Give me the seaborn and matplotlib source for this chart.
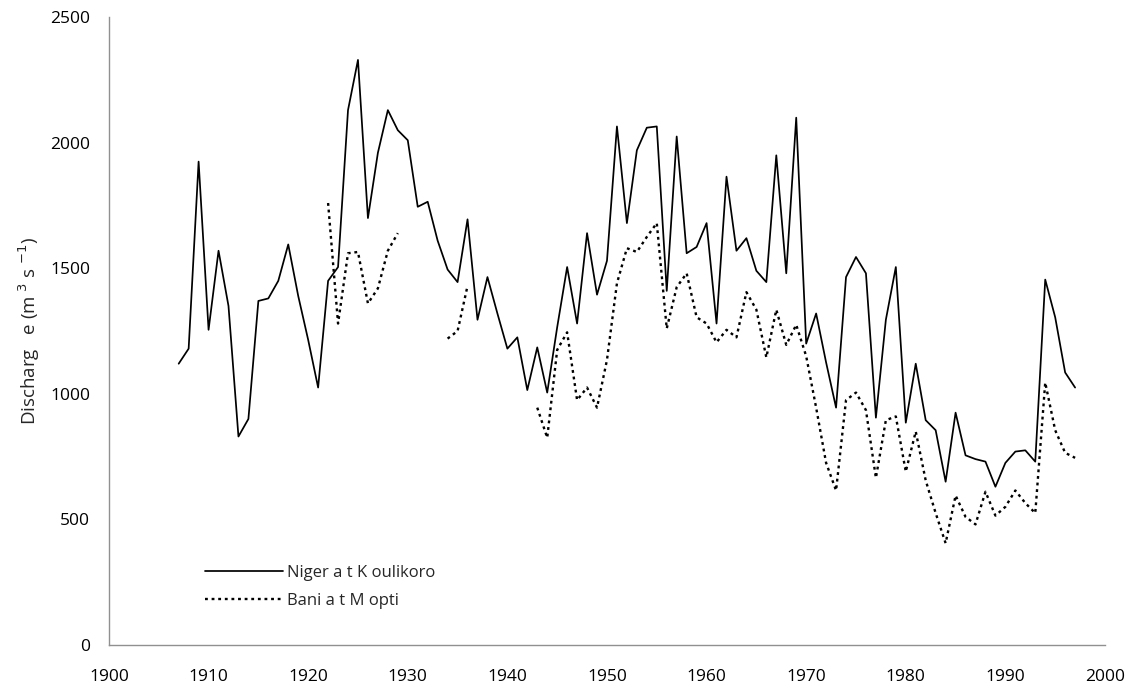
import numpy as np
import pandas as pd
import matplotlib
matplotlib.use('Agg')
import matplotlib.pyplot as plt
import seaborn as sns

# Annual mean discharge (m3/s)
niger_years = list(range(1907, 1998))
niger_q = [1120, 1180, 1925, 1255, 1570, 1350, 830, 900, 1370, 1380, 1450, 1595,
           1390, 1215, 1025, 1450, 1505, 2130, 2330, 1700, 1960, 2130, 2050, 2010,
           1745, 1765, 1610, 1495, 1445, 1695, 1295, 1465, 1320, 1180, 1225, 1015,
           1185, 1005, 1265, 1505, 1280, 1640, 1395, 1530, 2065, 1680, 1970, 2060,
           2065, 1410, 2025, 1560, 1585, 1680, 1280, 1865, 1570, 1620, 1490, 1445,
           1950, 1480, 2100, 1200, 1320, 1125, 945, 1465, 1545, 1480, 905, 1295,
           1505, 885, 1120, 895, 855, 650, 925, 755, 740, 730, 630, 725, 770,
           775, 730, 1455, 1305, 1085, 1025]

# Bani at Mopti has gaps in the record
bani_years_1 = list(range(1922, 1930))
bani_q_1 = [1760, 1280, 1560, 1565, 1360, 1420, 1570, 1640]
bani_years_2 = [1934, 1935, 1936]
bani_q_2 = [1220, 1250, 1430]
bani_years_3 = list(range(1943, 1998))
bani_q_3 = [945, 825, 1175, 1245, 975, 1025, 945, 1135, 1440, 1580, 1565, 1625,
            1680, 1260, 1425, 1480, 1305, 1280, 1205, 1255, 1225, 1405, 1335, 1145,
            1335, 1195, 1275, 1150, 945, 725, 615, 975, 1005, 935, 665, 895,
            910, 690, 850, 655, 525, 405, 595, 510, 480, 610, 515, 550, 615,
            565, 525, 1045, 855, 765, 745]

sns.set_theme(style='white')
plt.rcParams['font.family'] = ['Open Sans', 'DejaVu Sans']

fig = plt.figure(figsize=(11.28, 6.89), dpi=100)
ax = fig.add_axes([0.0966, 0.064, 0.883, 0.911])

niger = pd.DataFrame({'year': niger_years, 'q': niger_q})
sns.lineplot(data=niger, x='year', y='q', color='black', linewidth=1.25, ax=ax,
             label='Niger a t K oulikoro')

first = True
for yrs, vals in [(bani_years_1, bani_q_1), (bani_years_2, bani_q_2), (bani_years_3, bani_q_3)]:
    seg = pd.DataFrame({'year': yrs, 'q': vals})
    sns.lineplot(data=seg, x='year', y='q', color='black', linewidth=1.7,
                 linestyle=(0, (1.2, 1.6)), ax=ax,
                 label='Bani a t M opti' if first else None)
    first = False

ax.set_xlim(1900, 2000)
ax.set_ylim(0, 2500)
ax.set_xticks(range(1900, 2001, 10))
ax.set_yticks(range(0, 2501, 500))
ax.set_xlabel('')
ax.set_ylabel('Discharg   e (m $^{3}$ s $^{-1}$)', fontsize=13.5, labelpad=6)

for side in ['top', 'right']:
    ax.spines[side].set_visible(False)
for side in ['left', 'bottom']:
    ax.spines[side].set_color('#909090')
    ax.spines[side].set_linewidth(1.0)
ax.tick_params(axis='both', which='major', direction='out', length=4.5, width=1,
               color='#909090', labelsize=12.5, labelcolor='black')
ax.tick_params(axis='x', pad=13)
ax.tick_params(axis='y', pad=9)

leg = ax.legend(loc='lower left', bbox_to_anchor=(0.081, 0.033), frameon=False,
                fontsize=12, handlelength=4.7, handletextpad=0.25, labelspacing=0.75)

plt.savefig('out.png', dpi=100)
